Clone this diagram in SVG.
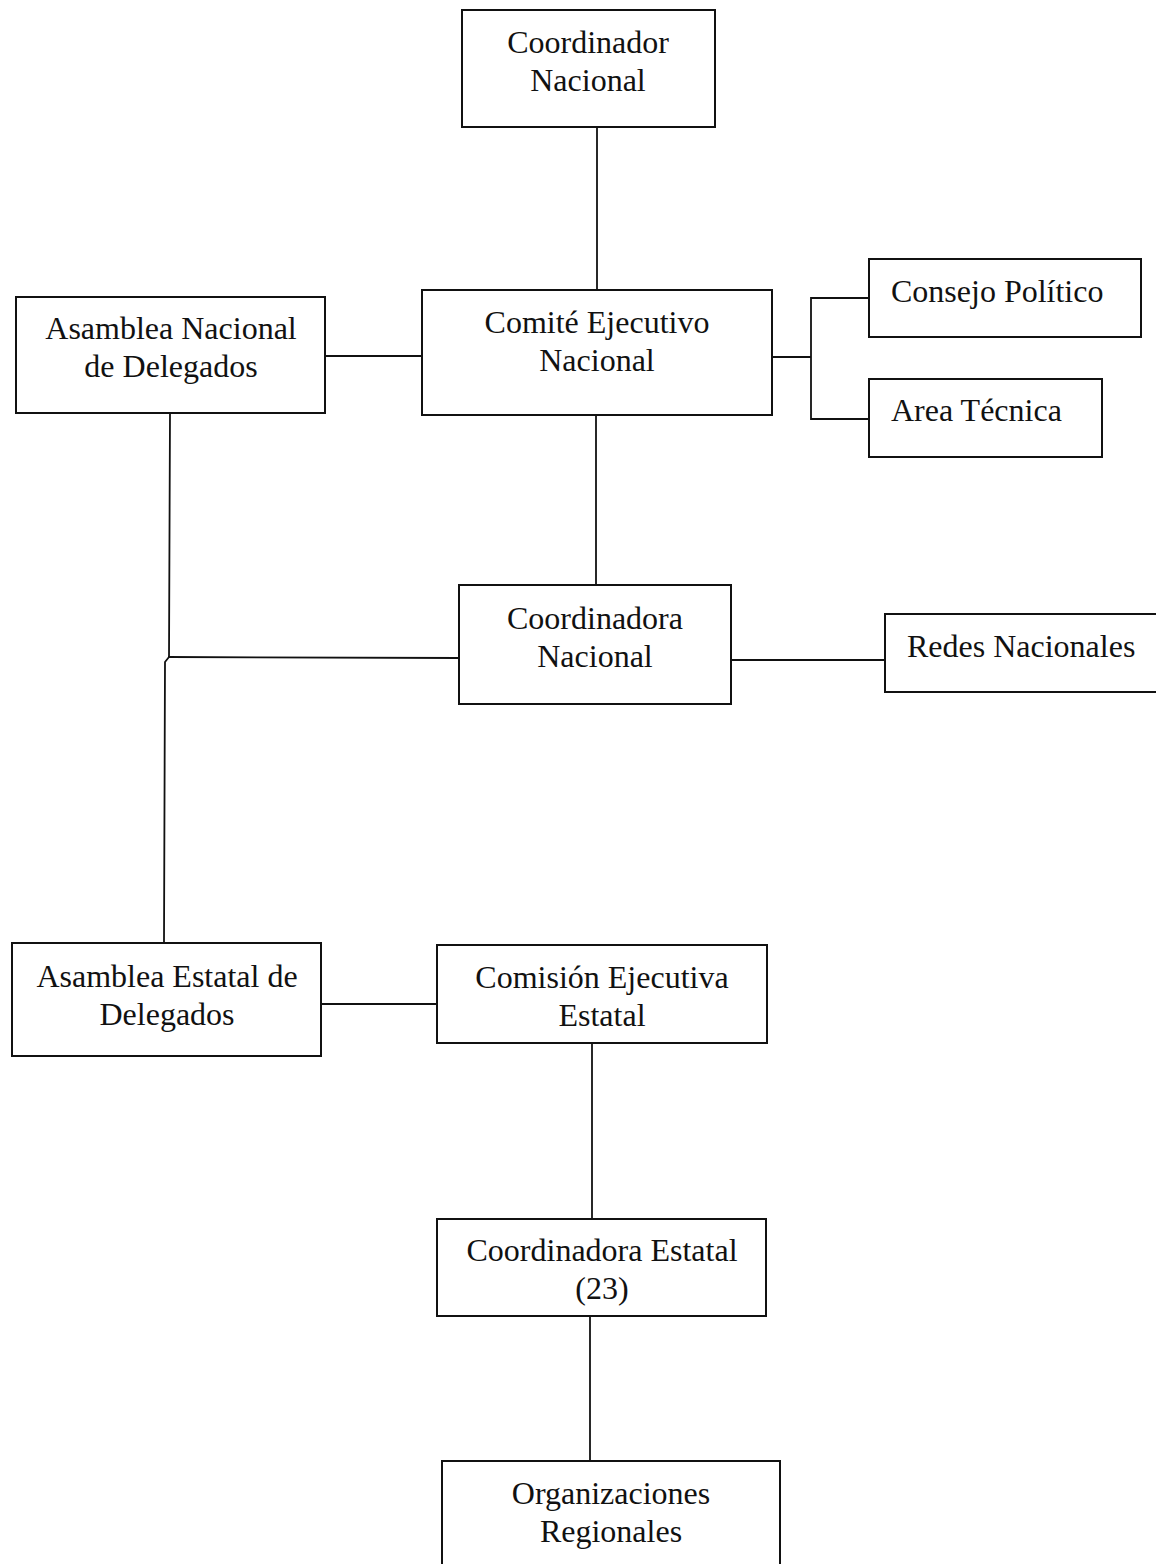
<svg xmlns="http://www.w3.org/2000/svg" width="1156" height="1564" viewBox="0 0 1156 1564">
<style>
.box{fill:#fff;stroke:#111;stroke-width:2}
.t{font-family:"Liberation Serif","Times New Roman",serif;font-size:32px;fill:#111;text-anchor:middle}
.l{text-anchor:start}
.c{fill:none;stroke:#111;stroke-width:1.8}
</style>
<rect width="1156" height="1564" fill="#fff"/>
<g id="connectors">
<line class="c" x1="597" y1="127" x2="597" y2="290"/>
<line class="c" x1="325" y1="356" x2="422" y2="356"/>
<polyline class="c" points="772,357 811,357"/>
<polyline class="c" points="869,298 811,298 811,419 869,419"/>
<line class="c" x1="596" y1="415" x2="596" y2="585"/>
<polyline class="c" points="170,413 169,657 165,662 164,943"/>
<line class="c" x1="168" y1="657" x2="459" y2="658"/>
<line class="c" x1="731" y1="660" x2="885" y2="660"/>
<line class="c" x1="321" y1="1004" x2="437" y2="1004"/>
<line class="c" x1="592" y1="1043" x2="592" y2="1219"/>
<line class="c" x1="590" y1="1316" x2="590" y2="1461"/>
</g>
<g id="coordinador-nacional">
<rect class="box" x="462" y="10" width="253" height="117"/>
<text class="t" x="588" y="53">Coordinador</text>
<text class="t" x="588" y="91">Nacional</text>
</g>
<g id="comite-ejecutivo-nacional">
<rect class="box" x="422" y="290" width="350" height="125"/>
<text class="t" x="597" y="333">Comité Ejecutivo</text>
<text class="t" x="597" y="371">Nacional</text>
</g>
<g id="asamblea-nacional">
<rect class="box" x="16" y="297" width="309" height="116"/>
<text class="t" x="171" y="339">Asamblea Nacional</text>
<text class="t" x="171" y="377">de Delegados</text>
</g>
<g id="consejo-politico">
<rect class="box" x="869" y="259" width="272" height="78"/>
<text class="t l" x="891" y="302">Consejo Político</text>
</g>
<g id="area-tecnica">
<rect class="box" x="869" y="379" width="233" height="78"/>
<text class="t l" x="891" y="421">Area Técnica</text>
</g>
<g id="coordinadora-nacional">
<rect class="box" x="459" y="585" width="272" height="119"/>
<text class="t" x="595" y="629">Coordinadora</text>
<text class="t" x="595" y="667">Nacional</text>
</g>
<g id="redes-nacionales">
<rect class="box" x="885" y="614" width="280" height="78"/>
<text class="t l" x="907" y="657">Redes Nacionales</text>
</g>
<g id="asamblea-estatal">
<rect class="box" x="12" y="943" width="309" height="113"/>
<text class="t" x="167" y="987">Asamblea Estatal de</text>
<text class="t" x="167" y="1025">Delegados</text>
</g>
<g id="comision-ejecutiva-estatal">
<rect class="box" x="437" y="945" width="330" height="98"/>
<text class="t" x="602" y="988">Comisión Ejecutiva</text>
<text class="t" x="602" y="1026">Estatal</text>
</g>
<g id="coordinadora-estatal">
<rect class="box" x="437" y="1219" width="329" height="97"/>
<text class="t" x="602" y="1261">Coordinadora Estatal</text>
<text class="t" x="602" y="1299">(23)</text>
</g>
<g id="organizaciones-regionales">
<rect class="box" x="442" y="1461" width="338" height="110"/>
<text class="t" x="611" y="1504">Organizaciones</text>
<text class="t" x="611" y="1542">Regionales</text>
</g>
</svg>
